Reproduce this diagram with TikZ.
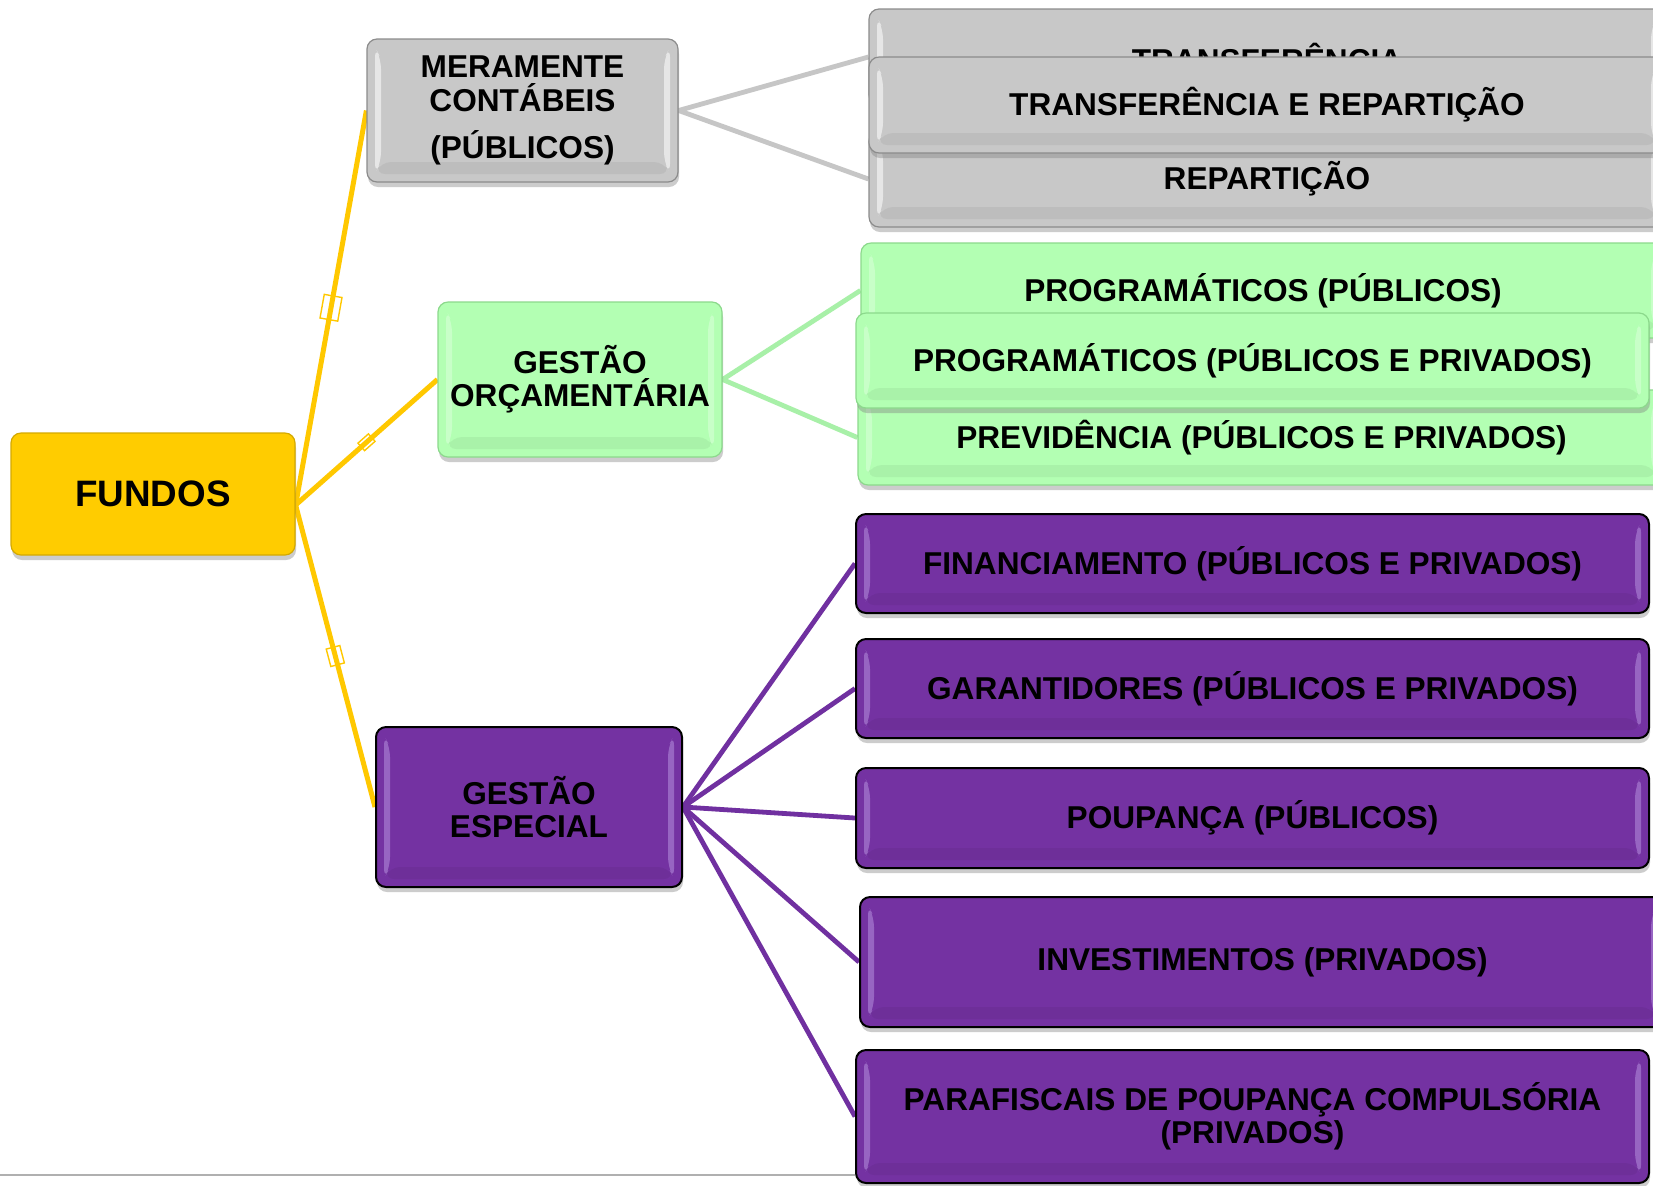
\documentclass[tikz,border=0pt]{standalone}
\usepackage{fontspec}
\setmainfont{Liberation Sans}
\usetikzlibrary{shadows}
\pgfdeclarelayer{bg}
\pgfsetlayers{bg,main}
\definecolor{yfill}{HTML}{FFCC00}
\definecolor{ydraw}{HTML}{D4A900}
\definecolor{yline}{HTML}{FFC800}
\definecolor{gfill}{HTML}{C8C8C8}
\definecolor{gdraw}{HTML}{8C8C8C}
\definecolor{gline}{HTML}{C6C6C6}
\definecolor{lgfill}{HTML}{B3FFB3}
\definecolor{lgdraw}{HTML}{8CD98C}
\definecolor{lgline}{HTML}{A8F0A8}
\definecolor{pfill}{HTML}{7432A2}
\definecolor{pline}{HTML}{7030A0}
\definecolor{pbevel}{HTML}{A77BD0}
\definecolor{basel}{HTML}{B0B0B0}
\tikzset{
  bevel/.style={path picture={
    \fill[#1, opacity=0.7] ([shift={(4pt,-4pt)}]path picture bounding box.north west) -- ([shift={(7pt,-10pt)}]path picture bounding box.north west) -- ([shift={(7pt,10pt)}]path picture bounding box.south west) -- ([shift={(4pt,4pt)}]path picture bounding box.south west) -- cycle;
    \fill[#1, opacity=0.7] ([shift={(-4pt,-4pt)}]path picture bounding box.north east) -- ([shift={(-7pt,-10pt)}]path picture bounding box.north east) -- ([shift={(-7pt,10pt)}]path picture bounding box.south east) -- ([shift={(-4pt,4pt)}]path picture bounding box.south east) -- cycle;
    \fill[black, opacity=0.05] ([shift={(7pt,10pt)}]path picture bounding box.south west) -- ([shift={(-7pt,10pt)}]path picture bounding box.south east) -- ([shift={(-4pt,4pt)}]path picture bounding box.south east) -- ([shift={(4pt,4pt)}]path picture bounding box.south west) -- cycle;
  }},
  box/.style={rounded corners=5pt, align=center, inner sep=0pt, text=black,
    font=\bfseries\fontsize{15.8}{16.7}\selectfont,
    drop shadow={opacity=0.4,shadow xshift=0.5pt,shadow yshift=-2.5pt}},
  ybox/.style={box, fill=yfill, draw=ydraw, line width=0.6pt, font=\bfseries\fontsize{18.4}{20}\selectfont},
  gbox/.style={box, fill=gfill, draw=gdraw, line width=0.6pt, bevel=white!80!gfill},
  lgbox/.style={box, fill=lgfill, draw=lgdraw, line width=0.6pt, bevel=white!40!lgfill},
  pbox/.style={box, fill=pfill, draw=black, line width=1pt, bevel=pbevel},
  yconn/.style={draw=yline, line width=2.5pt},
  gconn/.style={draw=gline, line width=2.4pt},
  lgconn/.style={draw=lgline, line width=2.4pt},
  pconn/.style={draw=pline, line width=2.4pt},
  ymark/.style={sloped, draw=yline, line width=0.7pt, inner sep=0pt, pos=0.5},
}
\begin{document}
\begin{tikzpicture}[x=0.5pt,y=-0.5pt]
\useasboundingbox (0,0) rectangle (1653,1185);
\clip (0,0) rectangle (1653,1185);
\begin{pgfonlayer}{bg}
\fill[white] (0,0) rectangle (1653,1185);
\end{pgfonlayer}

% level 1 and 2 nodes
\node[ybox, minimum width=142pt, minimum height=61pt] (fundos) at (153,494) {FUNDOS};
\node[gbox, minimum width=155.5pt, minimum height=71.5pt] (mer) at (522.5,110.5) {MERAMENTE\\CONT\'ABEIS\\[7pt](P\'UBLICOS)};
\node[lgbox, minimum width=142pt, minimum height=77.5pt] (orc) at (580,379.5) {GEST\~AO\\OR\c{C}AMENT\'ARIA};
\node[pbox, minimum width=153pt, minimum height=80pt] (esp) at (529,807) {GEST\~AO\\ESPECIAL};

% gray group
\node[gbox, minimum width=398pt, minimum height=48pt] (g1) at (1267,57) {TRANSFER\^ENCIA};
\node[gbox, minimum width=398pt, minimum height=48pt] (g3) at (1267,179) {REPARTI\c{C}\~AO};
\node[gbox, minimum width=398pt, minimum height=48pt] (g2) at (1267,105) {TRANSFER\^ENCIA E REPARTI\c{C}\~AO};

% green group
\node[lgbox, minimum width=402pt, minimum height=47.5pt] (gr1) at (1263,290.5) {PROGRAM\'ATICOS (P\'UBLICOS)};
\node[lgbox, minimum width=403.5pt, minimum height=47.5pt] (gr3) at (1261.5,437.5) {PREVID\^ENCIA (P\'UBLICOS E PRIVADOS)};
\node[lgbox, minimum width=396.5pt, minimum height=47.5pt] (gr2) at (1252.5,360.5) {PROGRAM\'ATICOS (P\'UBLICOS E PRIVADOS)};

% purple group
\node[pbox, minimum width=396.5pt, minimum height=49.5pt] (p1) at (1252.5,563.5) {FINANCIAMENTO (P\'UBLICOS E PRIVADOS)};
\node[pbox, minimum width=396.5pt, minimum height=49.5pt] (p2) at (1252.5,688.5) {GARANTIDORES (P\'UBLICOS E PRIVADOS)};
\node[pbox, minimum width=396.5pt, minimum height=50pt] (p3) at (1252.5,818) {POUPAN\c{C}A (P\'UBLICOS)};
\node[pbox, minimum width=402.5pt, minimum height=65pt] (p4) at (1262.5,962) {INVESTIMENTOS (PRIVADOS)};
\node[pbox, minimum width=396.5pt, minimum height=66.5pt] (p5) at (1252.5,1116.5) {PARAFISCAIS DE POUPAN\c{C}A COMPULS\'ORIA\\(PRIVADOS)};

% connectors (behind the boxes)
\begin{pgfonlayer}{bg}
\coordinate (fj) at ([yshift=-5.5pt]fundos.east);
\path[yconn] (fj) -- node[ymark, minimum width=12pt, minimum height=9pt]{} (mer.west);
\path[yconn] (fj) -- node[ymark, minimum width=7pt, minimum height=5pt]{} (orc.west);
\path[yconn] (fj) -- node[ymark, minimum width=9pt, minimum height=7pt]{} (esp.west);
\draw[gconn] (mer.east) -- (g1.west);
\draw[gconn] (mer.east) -- (g3.west);
\draw[lgconn] (orc.east) -- (gr1.west);
\draw[lgconn] (orc.east) -- (gr3.west);
\foreach \t in {p1,p2,p3,p4,p5}{
  \draw[pconn] (esp.east) -- (\t.west);
}
\coordinate (bl) at (0,1175);
\draw[basel, line width=1.2pt] (bl) -- (p5.west |- bl);
\end{pgfonlayer}
\end{tikzpicture}
\end{document}
